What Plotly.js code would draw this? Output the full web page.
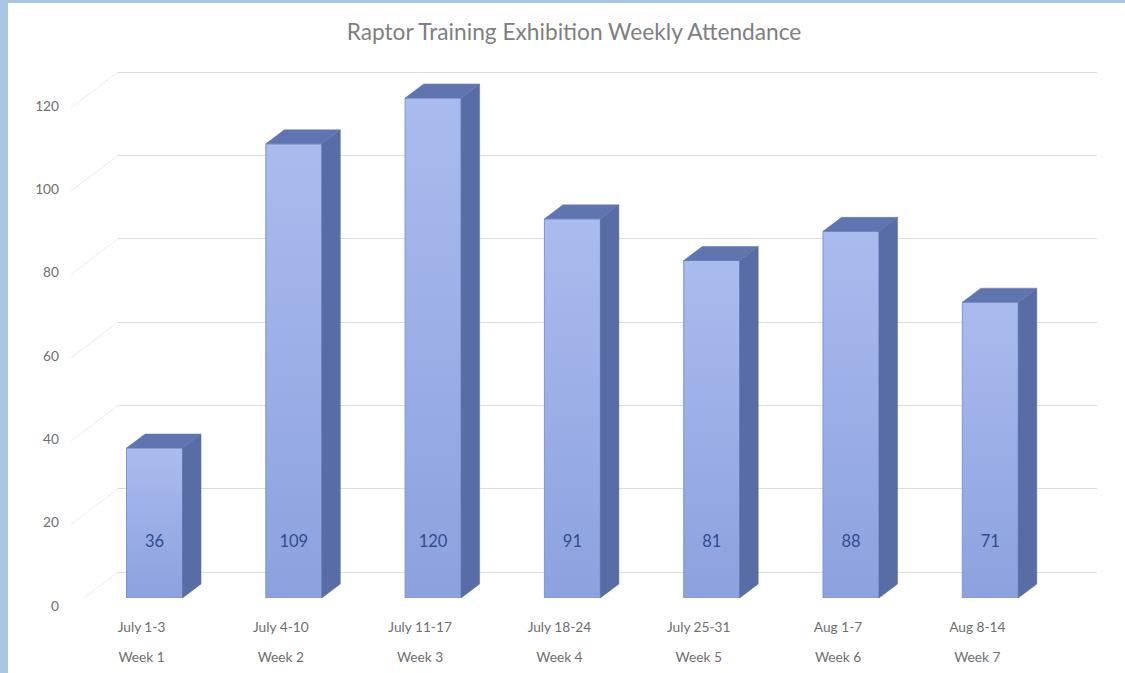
<!DOCTYPE html>
<html>
<head>
<meta charset="utf-8">
<script src="https://cdn.plot.ly/plotly-3.0.1.min.js"></script>
<style>
  html, body { margin: 0; padding: 0; background: #a9c6e4; width: 1125px; height: 673px; overflow: hidden; }
  #chart { position: absolute; left: 8px; top: 3px; width: 1117px; height: 670px; background: #ffffff; }
</style>
</head>
<body>
<div id="chart"></div>
<script>
// ---- data ----
const categories = ['July 1-3', 'July 4-10', 'July 11-17', 'July 18-24', 'July 25-31', 'Aug 1-7', 'Aug 8-14'];
const weeks = ['Week 1', 'Week 2', 'Week 3', 'Week 4', 'Week 5', 'Week 6', 'Week 7'];
const attendance = [36, 109, 120, 91, 81, 88, 71];
const yTicks = [0, 20, 40, 60, 80, 100, 120];

// ---- style / geometry ----
const FONT = 'Lato, "Open Sans", sans-serif';
const barWidth = 0.402;
const depthX = 0.133;   // 3D depth offset in category units
const depthY = 3.36;    // 3D depth offset in value units
const backShift = 6.24; // back wall grid offset in value units
const labelLevel = 13.2;

const idx = categories.map((_, i) => i);
const hw = barWidth / 2;

const sideX = [], sideY = [], topX = [], topY = [];
attendance.forEach((v, i) => {
  sideX.push(i + hw, i + hw + depthX, i + hw + depthX, i + hw, i + hw, null);
  sideY.push(0, depthY, v + depthY, v, 0, null);
  topX.push(i - hw, i - hw + depthX, i + hw + depthX, i + hw, i - hw, null);
  topY.push(v, v + depthY, v + depthY, v, v, null);
});

// front faces: one filled polygon per bar with a vertical gradient
const frontTraces = attendance.map((v, i) => ({
  type: 'scatter', mode: 'lines',
  x: [i - hw, i + hw, i + hw, i - hw, i - hw],
  y: [0, 0, v, v, 0],
  fill: 'toself', fillcolor: '#9cb0e6',
  fillgradient: { type: 'vertical', colorscale: [[0, '#8ca1de'], [1, '#aabbee']] },
  line: { color: '#7b94d8', width: 1 },
  name: categories[i], hoverinfo: 'skip', showlegend: false
}));

const traces = [
  ...frontTraces,
  {
    type: 'scatter', mode: 'lines', x: sideX, y: sideY, fill: 'toself',
    fillcolor: '#586ca6', line: { color: '#586ca6', width: 0.5 },
    hoverinfo: 'skip', showlegend: false
  },
  {
    type: 'scatter', mode: 'lines', x: topX, y: topY, fill: 'toself',
    fillcolor: '#6075b0', line: { color: '#6075b0', width: 0.5 },
    hoverinfo: 'skip', showlegend: false
  },
  {
    type: 'scatter', mode: 'text', x: idx, y: attendance.map(() => labelLevel),
    text: attendance.map(String), textposition: 'middle center',
    textfont: { family: FONT, size: 16.5, color: '#2f4d8f' },
    hoverinfo: 'skip', showlegend: false
  },
  { type: 'scatter', mode: 'markers', x: idx, y: idx.map(() => null), xaxis: 'x2', yaxis: 'y', hoverinfo: 'skip', showlegend: false },
  { type: 'scatter', mode: 'markers', x: idx, y: idx.map(() => null), xaxis: 'x', yaxis: 'y2', hoverinfo: 'skip', showlegend: false }
];

const plotH = 538;
const pxPerUnit = 500 / 120;
const yMax = plotH / pxPerUnit;
const xRange = [-0.262, 6.766];

// faint left-wall lines from front tick labels to back wall grid
const shapes = yTicks.map(v => ({
  type: 'line', xref: 'paper', yref: 'y2',
  x0: -0.048, y0: v - 8.6, x1: 0, y1: v,
  line: { color: '#ebebeb', width: 1 }, layer: 'below'
}));

const tickFont = { family: FONT, size: 13.7, color: '#6e6e6e' };

const layout = {
  width: 1117, height: 670,
  margin: { l: 110, r: 28, t: 57, b: 75 },
  paper_bgcolor: '#ffffff', plot_bgcolor: 'rgba(0,0,0,0)',
  font: { family: FONT, color: '#6e6e6e' },
  title: {
    text: 'Raptor Training Exhibition Weekly Attendance',
    font: { family: FONT, size: 22.7, color: '#7f7f7f' },
    xref: 'container', x: 0.5067, xanchor: 'center',
    yref: 'container', y: 1 - 29 / 670, yanchor: 'middle'
  },
  xaxis: {
    range: xRange, tickmode: 'array', tickvals: idx, ticktext: categories,
    showgrid: false, zeroline: false, showline: false, ticks: '',
    tickfont: tickFont,
    ticklabelshift: -13, ticklabelstandoff: 19, fixedrange: true
  },
  xaxis2: {
    overlaying: 'x', side: 'bottom', range: xRange,
    tickmode: 'array', tickvals: idx, ticktext: weeks,
    showgrid: false, zeroline: false, showline: false, ticks: '',
    tickfont: tickFont,
    ticklabelshift: -13, ticklabelstandoff: 49, fixedrange: true
  },
  yaxis: {
    range: [0, yMax], tickmode: 'array', tickvals: yTicks,
    showgrid: false, zeroline: false, showline: false, ticks: '',
    tickfont: tickFont,
    ticklabelshift: 8, ticklabelstandoff: 58, fixedrange: true
  },
  yaxis2: {
    overlaying: 'y', range: [-backShift, yMax - backShift],
    tickmode: 'array', tickvals: yTicks, showticklabels: false,
    showgrid: true, gridcolor: '#dcdcdc', gridwidth: 1,
    zeroline: false, showline: false, ticks: '', fixedrange: true
  },
  shapes: shapes
};

Plotly.newPlot('chart', traces, layout, { displayModeBar: false, staticPlot: true });
</script>
</body>
</html>
